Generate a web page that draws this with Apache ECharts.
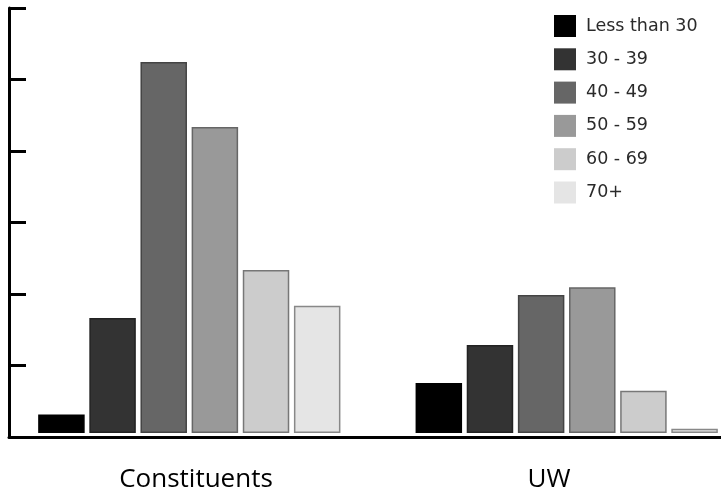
<!DOCTYPE html>
<html>
<head>
<meta charset="utf-8">
<script src="https://cdn.jsdelivr.net/npm/echarts@6/dist/echarts.min.js"></script>
<style>html,body{margin:0;padding:0;background:#fff;}#chart{width:721px;height:496px;}</style>
</head>
<body>
<div id="chart"></div>
<script>
var categories = ['Constituents', 'UW'];
var ageGroups = ['Less than 30', '30 - 39', '40 - 49', '50 - 59', '60 - 69', '70+'];
var lessThan30 = [2.6, 7.0];
var age30to39 = [16.1, 12.3];
var age40to49 = [51.9, 19.3];
var age50to59 = [42.8, 20.4];
var age60to69 = [22.8, 5.9];
var age70plus = [17.8, 0.6];
var yTicks = [0, 10, 20, 30, 40, 50, 60];

var seriesValues = [lessThan30, age30to39, age40to49, age50to59, age60to69, age70plus];
var fills = ['#000000', '#333333', '#666666', '#999999', '#cccccc', '#e5e5e5'];
var borders = ['#000000', '#222222', '#444444', '#666666', '#777777', '#888888'];

var chart = echarts.init(document.getElementById('chart'));
var series = ageGroups.map(function (name, i) {
  return {
    name: name,
    type: 'bar',
    xAxisIndex: 0,
    yAxisIndex: 0,
    data: seriesValues[i],
    barWidth: 46.5,
    barGap: '10%',
    itemStyle: { color: fills[i], borderColor: borders[i], borderWidth: 1.5 },
    emphasis: { disabled: true },
    animation: false
  };
});

chart.setOption({
  animation: false,
  backgroundColor: '#ffffff',
  grid: [
    { left: 0.6, width: 754.8, top: 4, bottom: 63, outerBoundsMode: 'none', containLabel: false },
    { left: 9, right: 0, top: 8, bottom: 59, outerBoundsMode: 'none', containLabel: false },
    { left: 19.5, width: 706, top: 8, bottom: 59, outerBoundsMode: 'none', containLabel: false }
  ],
  legend: {
    orient: 'vertical',
    left: 554,
    top: 15,
    padding: 0,
    itemWidth: 22,
    itemHeight: 22,
    itemGap: 11.3,
    icon: 'rect',
    data: ageGroups,
    itemStyle: { borderWidth: 0 },
    textStyle: { fontFamily: 'DejaVu Sans', fontSize: 17.5, color: '#2a2a2a', padding: [0, 0, 0, 5] },
    selectedMode: false
  },
  xAxis: [
    { type: 'category', gridIndex: 0, data: categories, axisLine: { show: false }, axisTick: { show: false }, axisLabel: { show: false } },
    { type: 'category', gridIndex: 1, data: categories, axisLine: { show: true, lineStyle: { color: '#000', width: 3 } }, axisTick: { show: false }, axisLabel: { show: false } },
    { type: 'category', gridIndex: 2, data: categories, axisLine: { show: false }, axisTick: { show: false },
      axisLabel: { show: true, margin: 30, fontFamily: 'Open Sans', fontSize: 26, color: '#000' } }
  ],
  yAxis: [
    { type: 'value', gridIndex: 0, min: yTicks[0], max: yTicks[yTicks.length - 1], interval: 10, show: false, splitLine: { show: false } },
    { type: 'value', gridIndex: 1, min: yTicks[0], max: yTicks[yTicks.length - 1], interval: 10,
      axisLine: { show: true, lineStyle: { color: '#000', width: 3 } },
      axisTick: { show: true, inside: true, length: 17, lineStyle: { color: '#000', width: 3 } },
      axisLabel: { show: false }, splitLine: { show: false } },
    { type: 'value', gridIndex: 2, min: 0, max: 60, show: false, splitLine: { show: false } }
  ],
  series: series
});
</script>
</body>
</html>
